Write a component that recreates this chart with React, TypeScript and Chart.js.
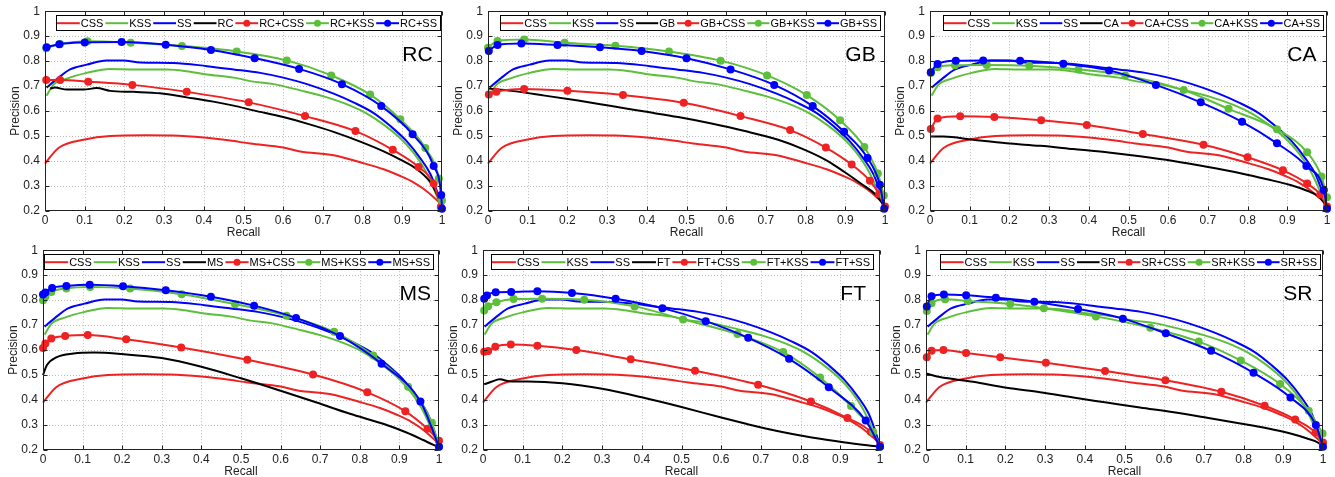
import React, { useEffect, useRef } from 'react';
import { Chart, registerables } from 'chart.js';

Chart.register(...registerables);

type Pt = [number, number];

const X_TICKS = [0, 0.1, 0.2, 0.3, 0.4, 0.5, 0.6, 0.7, 0.8, 0.9, 1];
const X_TICK_LABELS = ['0', '0.1', '0.2', '0.3', '0.4', '0.5', '0.6', '0.7', '0.8', '0.9', '1'];
const Y_TICKS = [0.2, 0.3, 0.4, 0.5, 0.6, 0.7, 0.8, 0.9, 1];
const Y_TICK_LABELS = ['0.2', '0.3', '0.4', '0.5', '0.6', '0.7', '0.8', '0.9', '1'];

// Shared baseline curves (identical in every panel)
const CSS: Pt[] = [[0, 0.39], [0.034, 0.452], [0.1, 0.486], [0.164, 0.5], [0.256, 0.503], [0.32, 0.502], [0.4, 0.494], [0.466, 0.482], [0.517, 0.47], [0.6, 0.454], [0.643, 0.438], [0.727, 0.423], [0.794, 0.395], [0.853, 0.367], [0.895, 0.34], [0.929, 0.314], [0.954, 0.288], [0.979, 0.255], [0.996, 0.226], [1, 0.21]];
const KSS: Pt[] = [[0.004, 0.662], [0.021, 0.705], [0.055, 0.73], [0.105, 0.753], [0.164, 0.769], [0.223, 0.767], [0.307, 0.767], [0.357, 0.76], [0.408, 0.747], [0.475, 0.734], [0.525, 0.718], [0.576, 0.708], [0.643, 0.683], [0.71, 0.655], [0.769, 0.622], [0.811, 0.59], [0.853, 0.546], [0.895, 0.491], [0.929, 0.432], [0.954, 0.373], [0.971, 0.32], [0.987, 0.26], [1, 0.216]];
const SS: Pt[] = [[0.004, 0.694], [0.029, 0.727], [0.063, 0.767], [0.105, 0.786], [0.155, 0.803], [0.197, 0.803], [0.24, 0.795], [0.324, 0.793], [0.408, 0.78], [0.475, 0.767], [0.542, 0.753], [0.6, 0.734], [0.66, 0.708], [0.727, 0.67], [0.777, 0.635], [0.828, 0.592], [0.87, 0.54], [0.912, 0.478], [0.945, 0.412], [0.971, 0.347], [0.987, 0.281], [1, 0.216]];

// RC
const RC: Pt[] = [[0.013, 0.69], [0.025, 0.694], [0.055, 0.686], [0.097, 0.686], [0.13, 0.692], [0.164, 0.681], [0.223, 0.677], [0.29, 0.671], [0.357, 0.655], [0.424, 0.638], [0.475, 0.622], [0.525, 0.603], [0.6, 0.576], [0.66, 0.55], [0.727, 0.517], [0.794, 0.478], [0.853, 0.439], [0.895, 0.406], [0.937, 0.367], [0.971, 0.314], [0.987, 0.268], [1, 0.222]];
const RC_CSS: Pt[] = [[0.003, 0.725], [0.038, 0.725], [0.109, 0.718], [0.22, 0.705], [0.357, 0.677], [0.513, 0.635], [0.655, 0.58], [0.782, 0.52], [0.876, 0.445], [0.941, 0.376], [0.979, 0.31], [0.997, 0.216]];
const RC_KSS: Pt[] = [[0.003, 0.852], [0.038, 0.869], [0.107, 0.88], [0.216, 0.874], [0.345, 0.861], [0.483, 0.839], [0.609, 0.803], [0.721, 0.743], [0.819, 0.666], [0.895, 0.567], [0.958, 0.452], [0.992, 0.33], [1, 0.242]];
const RC_SS: Pt[] = [[0.004, 0.856], [0.036, 0.868], [0.1, 0.875], [0.193, 0.877], [0.304, 0.866], [0.418, 0.845], [0.528, 0.812], [0.64, 0.769], [0.748, 0.708], [0.847, 0.62], [0.926, 0.507], [0.979, 0.38], [0.998, 0.264], [1, 0.209]];

// GB
const GB: Pt[] = [[0, 0.69], [0.059, 0.681], [0.143, 0.662], [0.227, 0.642], [0.311, 0.62], [0.395, 0.598], [0.479, 0.576], [0.563, 0.55], [0.647, 0.52], [0.731, 0.485], [0.798, 0.445], [0.857, 0.399], [0.899, 0.355], [0.941, 0.308], [0.975, 0.268], [1, 0.216]];
const GB_CSS: Pt[] = [[0.002, 0.666], [0.021, 0.677], [0.091, 0.688], [0.2, 0.681], [0.34, 0.664], [0.493, 0.633], [0.636, 0.58], [0.761, 0.524], [0.851, 0.454], [0.916, 0.386], [0.962, 0.321], [0.985, 0.268], [1, 0.218]];
const GB_KSS: Pt[] = [[0, 0.854], [0.024, 0.881], [0.091, 0.887], [0.193, 0.874], [0.321, 0.862], [0.456, 0.839], [0.586, 0.802], [0.703, 0.743], [0.803, 0.664], [0.887, 0.563], [0.948, 0.456], [0.982, 0.35], [0.997, 0.262]];
const GB_SS: Pt[] = [[0.002, 0.841], [0.024, 0.865], [0.084, 0.871], [0.175, 0.865], [0.282, 0.856], [0.387, 0.841], [0.5, 0.812], [0.611, 0.767], [0.721, 0.705], [0.818, 0.62], [0.897, 0.517], [0.956, 0.412], [0.987, 0.305], [0.998, 0.209]];

// CA
const CA: Pt[] = [[0, 0.498], [0.034, 0.498], [0.109, 0.485], [0.193, 0.471], [0.277, 0.461], [0.361, 0.448], [0.445, 0.435], [0.529, 0.419], [0.613, 0.4], [0.697, 0.377], [0.782, 0.351], [0.849, 0.327], [0.908, 0.304], [0.95, 0.281], [0.975, 0.262], [0.992, 0.235], [1, 0.209]];
const CA_CSS: Pt[] = [[0.002, 0.528], [0.019, 0.57], [0.076, 0.579], [0.162, 0.576], [0.28, 0.563], [0.395, 0.544], [0.536, 0.508], [0.689, 0.465], [0.8, 0.415], [0.889, 0.363], [0.95, 0.31], [0.983, 0.266], [1, 0.218]];
const CA_KSS: Pt[] = [[0.002, 0.753], [0.019, 0.776], [0.063, 0.784], [0.143, 0.785], [0.25, 0.782], [0.374, 0.767], [0.492, 0.743], [0.639, 0.684], [0.752, 0.609], [0.874, 0.527], [0.95, 0.435], [0.986, 0.338], [1, 0.255]];
const CA_SS: Pt[] = [[0.002, 0.756], [0.019, 0.789], [0.065, 0.802], [0.134, 0.803], [0.227, 0.802], [0.336, 0.79], [0.451, 0.763], [0.569, 0.705], [0.682, 0.635], [0.786, 0.557], [0.874, 0.471], [0.948, 0.38], [0.992, 0.284], [1, 0.209]];

// MS
const MS: Pt[] = [[0, 0.5], [0.01, 0.54], [0.035, 0.572], [0.077, 0.586], [0.128, 0.59], [0.2, 0.584], [0.3, 0.568], [0.4, 0.533], [0.5, 0.487], [0.6, 0.437], [0.691, 0.39], [0.775, 0.345], [0.859, 0.305], [0.918, 0.27], [0.96, 0.24], [0.997, 0.212]];
const MS_CSS: Pt[] = [[0, 0.608], [0.006, 0.626], [0.021, 0.646], [0.056, 0.656], [0.113, 0.66], [0.21, 0.643], [0.349, 0.61], [0.516, 0.561], [0.682, 0.502], [0.819, 0.431], [0.915, 0.355], [0.971, 0.285], [1, 0.237]];
const MS_KSS: Pt[] = [[0, 0.8], [0.006, 0.814], [0.021, 0.833], [0.059, 0.847], [0.119, 0.853], [0.22, 0.847], [0.35, 0.824], [0.485, 0.784], [0.615, 0.738], [0.735, 0.673], [0.834, 0.578], [0.922, 0.453], [0.982, 0.309], [1, 0.213]];
const MS_SS: Pt[] = [[0, 0.823], [0.006, 0.831], [0.023, 0.849], [0.059, 0.857], [0.118, 0.862], [0.202, 0.856], [0.31, 0.84], [0.424, 0.814], [0.533, 0.778], [0.639, 0.729], [0.75, 0.656], [0.855, 0.545], [0.953, 0.394], [1, 0.213]];

// FT
const FT: Pt[] = [[0.003, 0.463], [0.021, 0.473], [0.042, 0.483], [0.071, 0.474], [0.113, 0.474], [0.2, 0.467], [0.3, 0.445], [0.4, 0.411], [0.5, 0.372], [0.6, 0.33], [0.66, 0.306], [0.744, 0.275], [0.828, 0.25], [0.912, 0.23], [0.996, 0.213]];
const FT_CSS: Pt[] = [[0.003, 0.593], [0.013, 0.596], [0.031, 0.613], [0.07, 0.622], [0.137, 0.617], [0.235, 0.6], [0.372, 0.563], [0.534, 0.517], [0.693, 0.461], [0.826, 0.394], [0.918, 0.328], [0.977, 0.272], [1, 0.22]];
const FT_KSS: Pt[] = [[0.003, 0.759], [0.013, 0.776], [0.034, 0.792], [0.077, 0.805], [0.149, 0.806], [0.255, 0.802], [0.382, 0.775], [0.504, 0.723], [0.641, 0.664], [0.756, 0.592], [0.849, 0.49], [0.927, 0.376], [0.983, 0.272], [1, 0.213]];
const FT_SS: Pt[] = [[0.003, 0.806], [0.01, 0.819], [0.032, 0.832], [0.071, 0.833], [0.137, 0.836], [0.224, 0.829], [0.334, 0.806], [0.452, 0.768], [0.561, 0.716], [0.668, 0.649], [0.771, 0.565], [0.871, 0.451], [0.964, 0.318], [1, 0.213]];

// SR
const SR: Pt[] = [[0, 0.506], [0.035, 0.492], [0.119, 0.473], [0.203, 0.449], [0.287, 0.431], [0.371, 0.41], [0.455, 0.39], [0.539, 0.37], [0.624, 0.351], [0.708, 0.329], [0.792, 0.306], [0.859, 0.287], [0.918, 0.266], [0.96, 0.246], [0.989, 0.228], [1, 0.21]];
const SR_CSS: Pt[] = [[0.002, 0.571], [0.014, 0.597], [0.044, 0.6], [0.101, 0.588], [0.187, 0.571], [0.302, 0.549], [0.451, 0.516], [0.603, 0.479], [0.744, 0.433], [0.853, 0.377], [0.93, 0.322], [0.981, 0.27], [1, 0.23]];
const SR_KSS: Pt[] = [[0.002, 0.757], [0.014, 0.788], [0.048, 0.804], [0.105, 0.797], [0.212, 0.785], [0.297, 0.768], [0.428, 0.735], [0.565, 0.689], [0.687, 0.634], [0.793, 0.558], [0.892, 0.464], [0.964, 0.357], [0.999, 0.266]];
const SR_SS: Pt[] = [[0.002, 0.775], [0.014, 0.816], [0.045, 0.823], [0.101, 0.82], [0.176, 0.81], [0.273, 0.794], [0.383, 0.765], [0.496, 0.726], [0.604, 0.667], [0.718, 0.597], [0.825, 0.509], [0.918, 0.41], [0.982, 0.3], [1, 0.213]];

const PANELS = [
  { base: 'RC', curve: RC, css: RC_CSS, kss: RC_KSS, ss: RC_SS },
  { base: 'GB', curve: GB, css: GB_CSS, kss: GB_KSS, ss: GB_SS },
  { base: 'CA', curve: CA, css: CA_CSS, kss: CA_KSS, ss: CA_SS },
  { base: 'MS', curve: MS, css: MS_CSS, kss: MS_KSS, ss: MS_SS },
  { base: 'FT', curve: FT, css: FT_CSS, kss: FT_KSS, ss: FT_SS },
  { base: 'SR', curve: SR, css: SR_CSS, kss: SR_KSS, ss: SR_SS },
];

// Layout (page pixel positions of plot areas and legend boxes)
const LAYOUT = [
  { plot: [45, 7, 442, 211], legend: [56, 440] },
  { plot: [488, 7, 885, 211], legend: [500, 880] },
  { plot: [930, 7, 1327, 211], legend: [943, 1323] },
  { plot: [43, 246, 439, 450], legend: [44, 433] },
  { plot: [483, 246, 880, 450], legend: [491, 873] },
  { plot: [926, 246, 1323, 450], legend: [940, 1320] },
];

const RED = '#ee2222';
const GREEN = '#5cbf3a';
const BLUE = '#0000ff';
const BLACK = '#000000';
const FONT = "'Liberation Sans', Arial, Helvetica, sans-serif";
const YW = 45;
const XH = 30;
const PT = 8;
const PR = 8;

function Panel({ idx }: { idx: number }) {
  const ref = useRef<HTMLCanvasElement>(null);
  const p = PANELS[idx];
  const lay = LAYOUT[idx];
  const [pl, pt, pr, pb] = lay.plot;
  const w = YW + (pr - pl) + PR;
  const h = PT + (pb - pt) + XH;
  const canvasLeft = pl - YW;

  useEffect(() => {
    const series = [
      { label: 'CSS', pts: CSS, color: RED, marker: false },
      { label: 'KSS', pts: KSS, color: GREEN, marker: false },
      { label: 'SS', pts: SS, color: BLUE, marker: false },
      { label: p.base, pts: p.curve, color: BLACK, marker: false },
      { label: p.base + '+CSS', pts: p.css, color: RED, marker: true },
      { label: p.base + '+KSS', pts: p.kss, color: GREEN, marker: true },
      { label: p.base + '+SS', pts: p.ss, color: BLUE, marker: true },
    ];

    const decor = {
      id: 'decor' + idx,
      beforeDatasetsDraw(chart: any) {
        const ctx = chart.ctx;
        const area = chart.chartArea;
        const xs = chart.scales.x;
        const ys = chart.scales.y;
        ctx.save();
        ctx.strokeStyle = '#bdbdbd';
        ctx.lineWidth = 1;
        ctx.setLineDash([1, 2]);
        X_TICKS.forEach((v) => {
          if (v === 0 || v === 1) return;
          const px = Math.round(xs.getPixelForValue(v)) + 0.5;
          ctx.beginPath();
          ctx.moveTo(px, area.top);
          ctx.lineTo(px, area.bottom);
          ctx.stroke();
        });
        Y_TICKS.forEach((v) => {
          if (v === 0.2 || v === 1) return;
          const py = Math.round(ys.getPixelForValue(v)) + 0.5;
          ctx.beginPath();
          ctx.moveTo(area.left, py);
          ctx.lineTo(area.right, py);
          ctx.stroke();
        });
        ctx.restore();
      },
      afterDatasetsDraw(chart: any) {
        const ctx = chart.ctx;
        const area = chart.chartArea;
        const xs = chart.scales.x;
        const ys = chart.scales.y;
        ctx.save();
        // box
        ctx.strokeStyle = '#222';
        ctx.lineWidth = 1;
        ctx.setLineDash([]);
        const L = Math.round(area.left) + 0.5;
        const R = Math.round(area.right) - 0.5;
        const T = Math.round(area.top) + 0.5;
        const B = Math.round(area.bottom) - 0.5;
        ctx.strokeRect(L, T, R - L, B - T);
        // inward ticks
        ctx.beginPath();
        X_TICKS.forEach((v) => {
          const px = Math.round(xs.getPixelForValue(v)) + 0.5;
          ctx.moveTo(px, B); ctx.lineTo(px, B - 4);
          ctx.moveTo(px, T); ctx.lineTo(px, T + 4);
        });
        Y_TICKS.forEach((v) => {
          const py = Math.round(ys.getPixelForValue(v)) + 0.5;
          ctx.moveTo(L, py); ctx.lineTo(L + 4, py);
          ctx.moveTo(R, py); ctx.lineTo(R - 4, py);
        });
        ctx.stroke();

        // panel label
        ctx.fillStyle = '#000';
        ctx.font = `21px ${FONT}`;
        ctx.textAlign = 'left';
        ctx.textBaseline = 'alphabetic';
        ctx.fillText(p.base, xs.getPixelForValue(0.9), ys.getPixelForValue(0.8));

        // legend
        const bx = lay.legend[0] - canvasLeft;
        const bw = lay.legend[1] - lay.legend[0];
        const by = area.top + 4;
        const bh = 15;
        ctx.fillStyle = '#fff';
        ctx.fillRect(bx, by, bw, bh);
        ctx.strokeStyle = '#000';
        ctx.lineWidth = 1;
        ctx.strokeRect(Math.round(bx) + 0.5, Math.round(by) + 0.5, bw, bh);
        ctx.font = `11px ${FONT}`;
        const widths = series.map((s) => ctx.measureText(s.label).width);
        const sumW = widths.reduce((a, b) => a + b, 0);
        const gap = 2;
        const pad = 1;
        const sample = (bw - 2 * pad - sumW - series.length * (gap + 1)) / series.length;
        let x = bx + pad;
        const cy = by + bh / 2 + 0.5;
        ctx.textBaseline = 'middle';
        series.forEach((s, i) => {
          ctx.strokeStyle = s.color;
          ctx.lineWidth = 2;
          ctx.beginPath();
          ctx.moveTo(x, cy);
          ctx.lineTo(x + sample, cy);
          ctx.stroke();
          if (s.marker) {
            ctx.fillStyle = s.color;
            ctx.beginPath();
            ctx.arc(x + sample / 2, cy, 3.5, 0, Math.PI * 2);
            ctx.fill();
          }
          ctx.fillStyle = '#000';
          ctx.fillText(s.label, x + sample + 1, cy + 0.5);
          x += sample + 1 + widths[i] + gap;
        });
        ctx.restore();
      },
    };

    const tickFont = { size: 12, family: FONT };
    const chart = new Chart(ref.current as HTMLCanvasElement, {
      type: 'line',
      data: {
        datasets: series.map((s, i) => ({
          label: s.label,
          data: s.pts.map(([x, y]) => ({ x, y })),
          borderColor: s.color,
          backgroundColor: s.color,
          borderWidth: 2,
          pointRadius: s.marker ? 4 : 0,
          pointHoverRadius: s.marker ? 4 : 0,
          pointBackgroundColor: s.color,
          pointBorderColor: s.color,
          pointBorderWidth: 0,
          cubicInterpolationMode: 'monotone',
          clip: false,
          fill: false,
          order: series.length - i,
        })),
      },
      options: {
        responsive: false,
        animation: false,
        devicePixelRatio: 1,
        events: [],
        layout: { padding: { left: 0, top: PT, right: PR, bottom: 0 } },
        plugins: { legend: { display: false }, tooltip: { enabled: false } },
        scales: {
          x: {
            type: 'linear',
            min: 0,
            max: 1,
            grid: { display: false, drawTicks: false },
            border: { display: false },
            afterBuildTicks: (s: any) => { s.ticks = X_TICKS.map((v) => ({ value: v })); },
            afterFit: (s: any) => { s.height = XH; },
            ticks: {
              callback: (_v: any, i: number) => X_TICK_LABELS[i],
              padding: 2,
              maxRotation: 0,
              autoSkip: false,
              color: '#222',
              font: tickFont,
            },
            title: { display: true, text: 'Recall', color: '#222', font: tickFont, padding: { top: 0, bottom: 1 } },
          },
          y: {
            type: 'linear',
            min: 0.2,
            max: 1,
            grid: { display: false, drawTicks: false },
            border: { display: false },
            afterBuildTicks: (s: any) => { s.ticks = Y_TICKS.map((v) => ({ value: v })); },
            afterFit: (s: any) => { s.width = YW; },
            ticks: {
              callback: (_v: any, i: number) => Y_TICK_LABELS[i],
              padding: 5,
              autoSkip: false,
              color: '#222',
              font: tickFont,
            },
            title: { display: true, text: 'Precision', color: '#222', font: tickFont, padding: { top: 8, bottom: 0 } },
          },
        },
      } as any,
      plugins: [decor],
    });
    return () => chart.destroy();
  }, []);

  return (
    <div style={{ position: 'absolute', left: canvasLeft, top: pt - PT, width: w, height: h }}>
      <canvas ref={ref} width={w} height={h} style={{ width: w, height: h, display: 'block' }} />
    </div>
  );
}

export default function App() {
  return (
    <div style={{ position: 'absolute', left: 0, top: 0, width: 1335, height: 477, background: '#fff' }}>
      {PANELS.map((_, i) => (
        <Panel key={i} idx={i} />
      ))}
    </div>
  );
}
